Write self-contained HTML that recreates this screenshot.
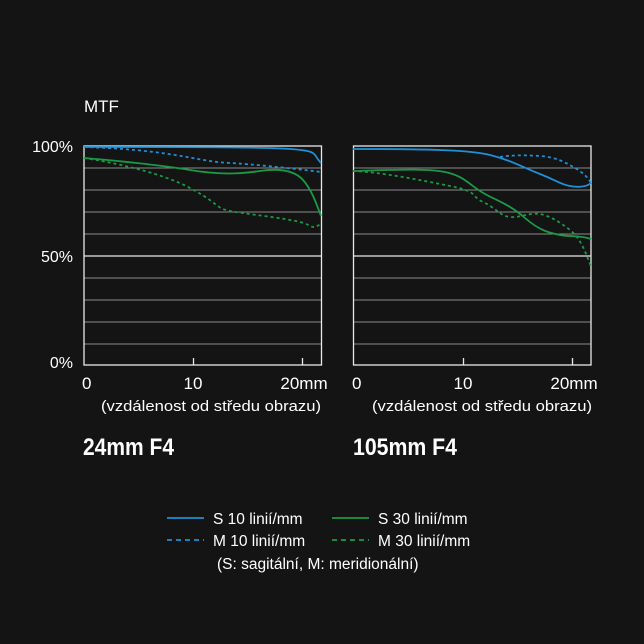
<!DOCTYPE html>
<html><head><meta charset="utf-8"><style>
html,body{margin:0;padding:0;background:#141414;}
svg{display:block}
text{font-family:"Liberation Sans",sans-serif;fill:#fff}
</style></head><body>
<svg width="644" height="644" viewBox="0 0 644 644" xmlns="http://www.w3.org/2000/svg">
<rect width="644" height="644" fill="#141414"/>
<text x="84" y="112" font-size="17">MTF</text>
<text x="73" y="152" font-size="16" text-anchor="end">100%</text>
<text x="73" y="262" font-size="16" text-anchor="end">50%</text>
<text x="73" y="368" font-size="16" text-anchor="end">0%</text>
<g stroke="#8a8a8a" stroke-width="1">
<path d="M84 168H321M84 190H321M84 212H321M84 234H321M84 278H321M84 300H321M84 322H321M84 344H321"/>
<path d="M353 168H591M353 190H591M353 212H591M353 234H591M353 278H591M353 300H591M353 322H591M353 344H591"/>
</g>
<g stroke="#e8e8e8" stroke-width="1.3" fill="none">
<rect x="84" y="146" width="237.5" height="219"/>
<path d="M84 256H321.5M193.5 365V358M302.5 365V358"/>
<rect x="353.5" y="146" width="237.5" height="219"/>
<path d="M353.5 256H591M463.5 365V358M572.5 365V358"/>
</g>
<g font-size="17">
<text x="82" y="389">0</text><text x="193" y="389" text-anchor="middle">10</text><text x="304" y="389" text-anchor="middle">20mm</text>
<text x="352" y="389">0</text><text x="463" y="389" text-anchor="middle">10</text><text x="574" y="389" text-anchor="middle">20mm</text>
</g>
<g font-size="15">
<text x="101" y="411" textLength="220" lengthAdjust="spacingAndGlyphs">(vzdálenost od středu obrazu)</text>
<text x="372" y="411" textLength="220" lengthAdjust="spacingAndGlyphs">(vzdálenost od středu obrazu)</text>
</g>
<g font-size="24" font-weight="bold">
<text x="83" y="455" textLength="91" lengthAdjust="spacingAndGlyphs">24mm F4</text>
<text x="353" y="455" textLength="104" lengthAdjust="spacingAndGlyphs">105mm F4</text>
</g>
<g fill="none" stroke-width="1.8">
<path stroke="#1e90d6" d="M84 147C180 147 260 147 290 149S312 154 321 163"/>
<path stroke="#1e90d6" stroke-dasharray="3,3" d="M84 147C120 148 150 151 175 155S210 162 230 163S290 168 321 172"/>
<path stroke="#1a9a46" d="M84 158C110 160 160 165 190 170S240 174 260 171S295 171 303 180S315 200 321 216"/>
<path stroke="#1a9a46" stroke-dasharray="3,3" d="M84 158C110 162 160 172 190 188S215 208 230 211S285 218 300 222S310 230 321 224"/>
<path stroke="#1e90d6" d="M353 149C430 149 470 150 490 155S520 166 540 174S560 184 570 186S588 186 591 183"/>
<path stroke="#1e90d6" stroke-dasharray="3,3" d="M500 157C510 155 525 155 540 156S565 162 575 168S588 178 591 183"/>
<path stroke="#1a9a46" d="M353 171C390 170 425 168 445 172S470 186 485 194S510 205 525 218S550 233 560 235S580 235 591 239"/>
<path stroke="#1a9a46" stroke-dasharray="3,3" d="M353 171C380 172 420 180 450 186S470 196 483 202S500 216 510 217S530 212 540 214S560 222 570 230S585 250 591 267"/>
</g>
<g stroke-width="1.8">
<path stroke="#1e90d6" d="M167 518H204"/>
<path stroke="#1e90d6" stroke-dasharray="5,4" d="M167 540H204"/>
<path stroke="#1a9a46" d="M332 518H369"/>
<path stroke="#1a9a46" stroke-dasharray="5,4" d="M332 540H369"/>
</g>
<g font-size="15.5">
<text x="213" y="524">S 10 linií/mm</text>
<text x="213" y="546">M 10 linií/mm</text>
<text x="378" y="524">S 30 linií/mm</text>
<text x="378" y="546">M 30 linií/mm</text>
<text x="217" y="569">(S: sagitální, M: meridionální)</text>
</g>
</svg>
</body></html>
